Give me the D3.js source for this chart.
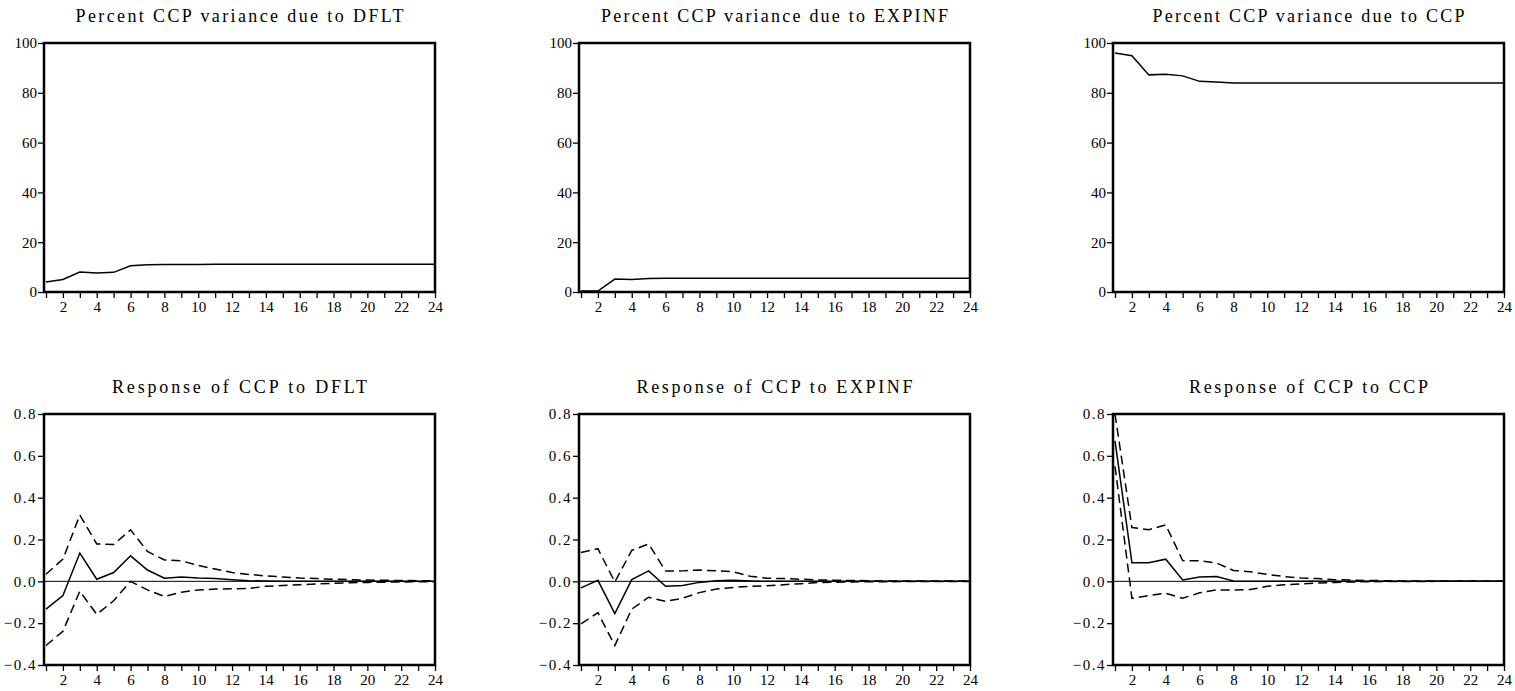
<!DOCTYPE html>
<html>
<head>
<meta charset="utf-8">
<script src="https://cdn.jsdelivr.net/npm/d3@7/dist/d3.min.js"></script>
<style>
  body { margin:0; background:#fff; }
  svg text { font-family:"Liberation Serif","Times New Roman",Times,"DejaVu Serif",serif !important; fill:#000; }
</style>
</head>
<body>
<svg id="chart" width="1515" height="691"></svg>
<script>
// forecast horizon
var horizons = [1,2,3,4,5,6,7,8,9,10,11,12,13,14,15,16,17,18,19,20,21,22,23,24];
var xTickLabels = [2,4,6,8,10,12,14,16,18,20,22,24];
var pctTicks = [0,20,40,60,80,100];
var irfTicks = [-0.4,-0.2,0.0,0.2,0.4,0.6,0.8];

// variance decomposition of CCP (percent)
var varDFLT   = [4.0,5.0,8.0,7.6,7.9,10.5,10.9,11.0,11.0,11.0,11.1,11.1,11.1,11.1,11.1,11.1,11.1,11.1,11.1,11.1,11.1,11.1,11.1,11.1];
var varEXPINF = [0.4,0.4,5.2,5.0,5.4,5.5,5.5,5.5,5.5,5.5,5.5,5.5,5.5,5.5,5.5,5.5,5.5,5.5,5.5,5.5,5.5,5.5,5.5,5.5];
var varCCP    = [96.0,94.9,87.2,87.4,86.8,84.6,84.3,83.9,83.9,83.9,83.9,83.9,83.9,83.9,83.9,83.9,83.9,83.9,83.9,83.9,83.9,83.9,83.9,83.9];

// impulse responses of CCP, with +/- 2 s.e. bands
var irfDFLT    = [-0.133,-0.068,0.135,0.010,0.042,0.122,0.054,0.015,0.021,0.016,0.013,0.008,0.003,0.001,0,0,0,0,0,0,0,0,0,0];
var irfDFLTup  = [0.034,0.106,0.317,0.179,0.176,0.246,0.143,0.102,0.098,0.076,0.059,0.042,0.033,0.026,0.021,0.016,0.013,0.010,0.008,0.006,0.005,0.004,0.003,0.002];
var irfDFLTlo  = [-0.307,-0.239,-0.047,-0.158,-0.093,0.000,-0.041,-0.072,-0.052,-0.041,-0.037,-0.036,-0.034,-0.024,-0.020,-0.016,-0.013,-0.009,-0.007,-0.005,-0.004,-0.003,-0.002,-0.002];

var irfEXPINF   = [-0.031,0.005,-0.154,0.008,0.050,-0.024,-0.020,-0.005,0.003,0.005,0.002,0,0,0,0,0,0,0,0,0,0,0,0,0];
var irfEXPINFup = [0.138,0.156,-0.003,0.148,0.179,0.049,0.050,0.054,0.050,0.046,0.024,0.015,0.013,0.010,0.007,0.005,0.004,0.003,0.002,0.002,0.001,0.001,0.001,0.001];
var irfEXPINFlo = [-0.203,-0.150,-0.307,-0.133,-0.076,-0.096,-0.081,-0.054,-0.037,-0.029,-0.024,-0.021,-0.016,-0.011,-0.006,-0.004,-0.003,-0.002,-0.002,-0.001,-0.001,-0.001,-0.001,-0.001];

var irfCCP    = [0.672,0.089,0.089,0.106,0.007,0.021,0.023,0.002,0,0,0,0,0,0,0,0,0,0,0,0,0,0,0,0];
var irfCCPup  = [0.800,0.257,0.247,0.270,0.099,0.098,0.088,0.052,0.046,0.033,0.023,0.016,0.013,0.008,0.006,0.004,0.003,0.002,0.002,0.001,0.001,0.001,0.001,0.001];
var irfCCPlo  = [0.550,-0.081,-0.068,-0.057,-0.081,-0.055,-0.041,-0.041,-0.039,-0.024,-0.016,-0.013,-0.008,-0.005,-0.003,-0.002,-0.001,-0.001,-0.001,0,0,0,0,0];

// panel layout
var lefts = [44,579,1113];
var boxW = 391;
var rows = [{top:43,bottom:292},{top:414,bottom:665}];

var panels = [
  {col:0,row:0,title:"Percent CCP variance due to DFLT",titleW:328,domain:[0,100],ticks:pctTicks,fmt:d3.format("d"),main:varDFLT},
  {col:1,row:0,title:"Percent CCP variance due to EXPINF",titleW:347,domain:[0,100],ticks:pctTicks,fmt:d3.format("d"),main:varEXPINF},
  {col:2,row:0,title:"Percent CCP variance due to CCP",titleW:312,domain:[0,100],ticks:pctTicks,fmt:d3.format("d"),main:varCCP},
  {col:0,row:1,title:"Response of CCP to DFLT",titleW:255,domain:[-0.4,0.8],ticks:irfTicks,fmt:d3.format(".1f"),main:irfDFLT,up:irfDFLTup,lo:irfDFLTlo},
  {col:1,row:1,title:"Response of CCP to EXPINF",titleW:276,domain:[-0.4,0.8],ticks:irfTicks,fmt:d3.format(".1f"),main:irfEXPINF,up:irfEXPINFup,lo:irfEXPINFlo},
  {col:2,row:1,title:"Response of CCP to CCP",titleW:239,domain:[-0.4,0.8],ticks:irfTicks,fmt:d3.format(".1f"),main:irfCCP,up:irfCCPup,lo:irfCCPlo}
];

var svg = d3.select("#chart");

panels.forEach(function(p) {
  var left = lefts[p.col], right = left + boxW;
  var top = rows[p.row].top, bottom = rows[p.row].bottom;

  var x = d3.scaleLinear().domain([1,24]).range([left+2, right]);
  var y = d3.scaleLinear().domain(p.domain).range([bottom, top]);
  var g = svg.append("g");

  // title
  g.append("text")
    .attr("x", (left+right)/2)
    .attr("y", top-21)
    .attr("text-anchor","middle")
    .attr("font-size",18)
    .attr("textLength",p.titleW)
    .attr("lengthAdjust","spacing")
    .text(p.title);

  // y axis
  var ya = g.append("g").attr("transform","translate("+left+",0)")
    .call(d3.axisLeft(y).tickValues(p.ticks).tickFormat(p.fmt).tickSize(6).tickPadding(1));
  ya.select(".domain").remove();
  ya.selectAll("line").attr("stroke","#000").attr("stroke-width",1.3);
  ya.selectAll("text").attr("font-size",15)
    .attr("letter-spacing", p.row==1 ? 1.5 : 0);

  // x axis
  var xa = g.append("g").attr("transform","translate(0,"+bottom+")")
    .call(d3.axisBottom(x).tickValues(horizons).tickSize(6).tickFormat(function(d){
      return xTickLabels.indexOf(d) >= 0 ? d : "";
    }).tickPadding(3));
  xa.select(".domain").remove();
  xa.selectAll("line").attr("stroke","#000").attr("stroke-width",1.3);
  xa.selectAll("text").attr("font-size",15);

  // zero line
  if (p.row == 1) {
    g.append("line")
      .attr("x1",left).attr("x2",right)
      .attr("y1",y(0)).attr("y2",y(0))
      .attr("stroke","#000").attr("stroke-width",1);
  }

  var line = d3.line()
    .x(function(d,i){ return x(horizons[i]); })
    .y(function(d){ return y(d); });

  [p.up, p.lo].forEach(function(s) {
    if (!s) return;
    g.append("path").datum(s)
      .attr("d",line)
      .attr("fill","none").attr("stroke","#000")
      .attr("stroke-width",1.5).attr("stroke-dasharray","9,5");
  });

  g.append("path").datum(p.main)
    .attr("d",line)
    .attr("fill","none").attr("stroke","#000").attr("stroke-width",1.5);

  // frame
  g.append("rect")
    .attr("x",left).attr("y",top)
    .attr("width",right-left).attr("height",bottom-top)
    .attr("fill","none").attr("stroke","#000").attr("stroke-width",2.5);
});
</script>
</body>
</html>
